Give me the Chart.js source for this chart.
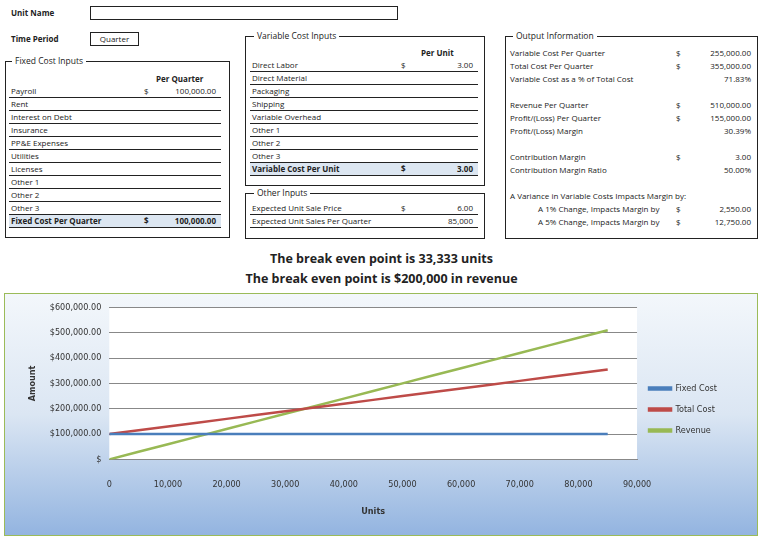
<!DOCTYPE html><html><head><meta charset="utf-8">
<script src="https://cdn.jsdelivr.net/npm/chart.js@4/dist/chart.umd.min.js"></script>
<style>
body{margin:0;width:763px;height:539px;position:relative;font-family:"Open Sans",sans-serif;font-size:8px;color:#222;background:#fff;overflow:hidden}
.a{position:absolute;white-space:nowrap}
.box{position:absolute;border:1px solid #222}
.leg{position:absolute;background:#fff;padding:0 3px;top:-7px;font-size:8.5px}
.row{position:absolute;height:12px;border-bottom:1px solid #222;line-height:12px}
.hl{background:#dce6f1;font-weight:bold}
#cw{position:absolute;left:4px;top:293px;width:752px;height:241px;border:1px solid #9bbb59;background:linear-gradient(#f3f7fb,#dbe6f3 50%,#93b4e0)}
</style></head><body>
<div class="a" style="left:11px;top:7px;font-weight:bold">Unit Name</div>
<div class="box" style="left:90px;top:6px;width:306px;height:12px"></div>
<div class="a" style="left:11px;top:33px;font-weight:bold">Time Period</div>
<div class="box" style="left:90px;top:32px;width:47px;height:12px;text-align:center;line-height:12px">Quarter</div>
<div class="box" style="left:5px;top:61px;width:223px;height:175px"><span class="leg" style="left:6px">Fixed Cost Inputs</span></div>
<div class="box" style="left:245px;top:36px;width:238px;height:148px"><span class="leg" style="left:8px">Variable Cost Inputs</span></div>
<div class="box" style="left:245px;top:193px;width:238px;height:44px"><span class="leg" style="left:8px">Other Inputs</span></div>
<div class="box" style="left:505px;top:36px;width:251px;height:201px"><span class="leg" style="left:7px">Output Information</span></div>
<div class="a" style="left:0;width:763px;top:249px;text-align:center;font-weight:bold;font-size:12.5px;line-height:20px">The break even point is 33,333 units<br>The break even point is $200,000 in revenue</div>
<div id="cw"><canvas id="c"></canvas></div>
<script>
const fixedLabels=["Payroll","Rent","Interest on Debt","Insurance","PP&E Expenses","Utilities","Licenses","Other 1","Other 2","Other 3","Fixed Cost Per Quarter"];
const fixedVals=["100,000.00","","","","","","","","","","100,000.00"];
const varLabels=["Direct Labor","Direct Material","Packaging","Shipping","Variable Overhead","Other 1","Other 2","Other 3","Variable Cost Per Unit"];
const varVals=["3.00","","","","","","","","3.00"];
const otherLabels=["Expected Unit Sale Price","Expected Unit Sales Per Quarter"];
const otherVals=["6.00","85,000"];
const outLabels=[["Variable Cost Per Quarter","$","255,000.00",52],["Total Cost Per Quarter","$","355,000.00",65],["Variable Cost as a % of Total Cost","","71.83%",78],["Revenue Per Quarter","$","510,000.00",104],["Profit/(Loss) Per Quarter","$","155,000.00",117],["Profit/(Loss) Margin","","30.39%",130],["Contribution Margin","$","3.00",156],["Contribution Margin Ratio","","50.00%",169],["A Variance in Variable Costs Impacts Margin by:","","",195],["A 1% Change, Impacts Margin by","$","2,550.00",208],["A 5% Change, Impacts Margin by","$","12,750.00",221]];
function add(h){document.body.insertAdjacentHTML('beforeend',h)}
function table(labels,vals,x,w,y0,dx,last){labels.forEach((l,i)=>{const t=y0+i*13;const hl=(last&&i==labels.length-1)?' hl':'';add(`<div class="row${hl}" style="left:${x}px;width:${w}px;top:${t}px"><span class="a" style="left:2px">${l}</span>${vals[i]?`<span class="a" style="left:${dx}px">$</span><span class="a" style="right:5px">${vals[i]}</span>`:''}</div>`)})}
add('<div class="a" style="left:156px;top:73px;font-weight:bold">Per Quarter</div>');
table(fixedLabels,fixedVals,9,212,85,135,true);
add('<div class="a" style="left:421px;top:47px;font-weight:bold">Per Unit</div>');
table(varLabels,varVals,250,228,59,151,true);
table(otherLabels,otherVals,250,228,202,151,false);
otherVals[1]&&document.querySelectorAll('.row')[document.querySelectorAll('.row').length-1].children[1].remove();
outLabels.forEach(o=>{const ind=o[0].startsWith('A ')&&o[1]?'left:538px':'left:510px';add(`<div class="a" style="${ind};top:${o[3]-5}px">${o[0]}</div>`+(o[1]?`<div class="a" style="left:676px;top:${o[3]-5}px">$</div>`:'')+`<div class="a" style="right:12px;top:${o[3]-5}px">${o[2]}</div>`)});

const units=[0,5000,10000,15000,20000,25000,30000,35000,40000,45000,50000,55000,60000,65000,70000,75000,80000,85000];
const fixedCost=[100000,100000,100000,100000,100000,100000,100000,100000,100000,100000,100000,100000,100000,100000,100000,100000,100000,100000];
const totalCost=[100000,115000,130000,145000,160000,175000,190000,205000,220000,235000,250000,265000,280000,295000,310000,325000,340000,355000];
const revenue=[0,30000,60000,90000,120000,150000,180000,210000,240000,270000,300000,330000,360000,390000,420000,450000,480000,510000];
const pts=a=>units.map((u,i)=>({x:u,y:a[i]}));
const ds=(l,d,c)=>({label:l,data:pts(d),borderColor:c,backgroundColor:c,borderWidth:2.5,pointRadius:0,tension:0});
const f="'Liberation Sans Narrow','DejaVu Sans Condensed',sans-serif";
new Chart(document.getElementById('c'),{type:'line',data:{datasets:[ds('Fixed Cost',fixedCost,'#4a7ebb'),ds('Total Cost',totalCost,'#be4b48'),ds('Revenue',revenue,'#98b954')]},
options:{responsive:true,maintainAspectRatio:false,animation:false,layout:{padding:{top:4,right:30,bottom:14,left:18}},
plugins:{legend:{position:'right',labels:{boxWidth:22,boxHeight:2,font:{family:f,size:9},color:'#333',padding:12}},tooltip:{enabled:false}},
scales:{x:{type:'linear',min:0,max:90000,grid:{display:false},border:{color:'#888'},ticks:{stepSize:10000,color:'#333',font:{family:f,size:9},padding:12,callback:v=>v.toLocaleString('en-US')},title:{display:true,text:'Units',font:{family:f,size:9,weight:'bold'},color:'#333'}},
y:{min:0,max:600000,grid:{color:'#888',drawTicks:false},border:{display:false},ticks:{stepSize:100000,color:'#333',padding:8,font:{family:f,size:9},callback:v=>v===0?'$':'$'+v.toLocaleString('en-US',{minimumFractionDigits:2})},title:{display:true,text:'Amount',font:{family:f,size:9,weight:'bold'},color:'#333'}}}},
plugins:[{id:'bg',beforeDraw(c){const a=c.chartArea;c.ctx.fillStyle='#fff';c.ctx.fillRect(a.left,a.top,a.width,a.height)}}]});
</script></body></html>
